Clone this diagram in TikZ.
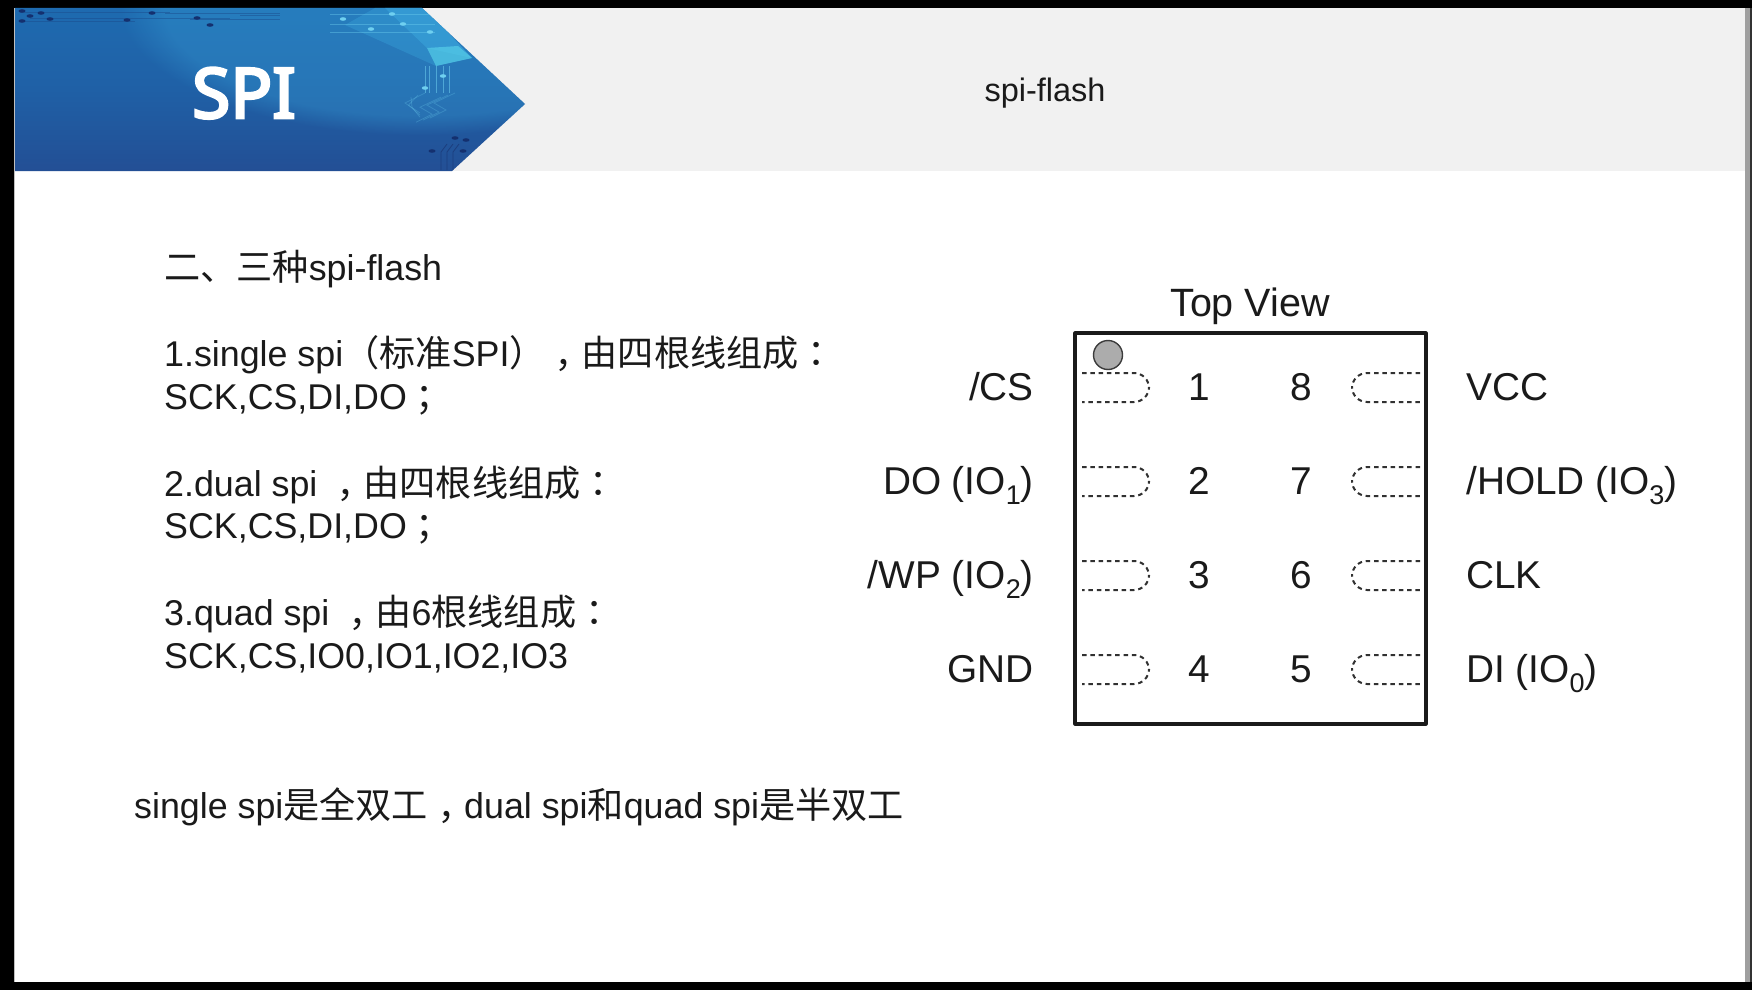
\documentclass[tikz,border=0pt]{standalone}
\usepackage{fontspec}
\setmainfont{Liberation Sans}
\newfontfamily\cjk[Scale=1.01]{Noto Sans CJK SC}
\newfontfamily\pncjk[Scale=1.01]{Noto Sans CJK TC}
\newfontfamily\logofont[FakeBold=4]{Noto Sans}
\usetikzlibrary{fadings}
\definecolor{ink}{HTML}{1A1A1A}
\definecolor{headgray}{HTML}{F1F1F1}
\definecolor{bannerA}{HTML}{2A3A80}
\definecolor{bannerB}{HTML}{25468C}
\definecolor{bannerC}{HTML}{1F60A6}
\definecolor{bannerD}{HTML}{1E6FB4}
\definecolor{bannerE}{HTML}{1F7ABC}
\definecolor{traceDark}{HTML}{1B4D8E}
\definecolor{dotDark}{HTML}{14306F}
\definecolor{traceLow}{HTML}{1C3E7E}
\definecolor{beamA}{HTML}{3BA8DE}
\definecolor{beamB}{HTML}{58D2EA}
\definecolor{lightdot}{HTML}{6FD0F0}
\pgfdeclareverticalshading{bannershade}{100bp}{
 color(0bp)=(bannerA);
 color(12bp)=(bannerB);
 color(50bp)=(bannerC);
 color(85bp)=(bannerD);
 color(100bp)=(bannerE)}
\newcommand{\sbs}[1]{\raisebox{-0.27em}{\fontsize{27}{27}\selectfont #1}}
\newcommand{\pn}[1]{{\pncjk #1}}
\newcommand{\lowcomma}{\smash{\raisebox{-0.34em}{\pncjk ，}}}
\newcommand{\lowcolon}{\smash{\raisebox{-0.04em}{\pncjk ：}}}
\newcommand{\lowsemi}{\smash{\raisebox{-0.06em}{\pncjk ；}}}
\tikzset{
 body/.style={inner sep=0pt,anchor=base west,font=\fontsize{35.8}{36}\selectfont,text=ink},
 pinlabelL/.style={inner sep=0pt,anchor=base east,font=\fontsize{38.8}{38}\selectfont,text=ink},
 pinlabelR/.style={inner sep=0pt,anchor=base west,font=\fontsize{38.8}{38}\selectfont,text=ink},
 pinnum/.style={inner sep=0pt,anchor=base,font=\fontsize{38.8}{38}\selectfont,text=ink},
 pad/.style={draw=ink!90,line width=2pt,dash pattern=on 4.5pt off 3.8pt,rounded corners=15pt},
 trace/.style={line width=.8pt},
}
\begin{document}
\begin{tikzpicture}[x=1pt,y=-1pt]
\useasboundingbox (0,0) rectangle (1752,990);
% frame and slide
\fill[black] (0,0) rectangle (1752,990);
\fill[white] (14,8) rectangle (1745,982);
\fill[headgray] (14,8) rectangle (1745,171);
\fill[gray!75] (1745,8) rectangle (1750,982);
\fill[gray!40!black] (1750,8) rectangle (1752,982);
\fill[gray!50] (14,8) rectangle (15,982);
% banner
\begin{scope}
\clip (15,8) -- (422,8) -- (525,104) -- (452,171) -- (15,171) -- cycle;
\shade[shading=bannershade] (15,8) rectangle (525,171);
\fill[beamA,opacity=.3,path fading=circle with fuzzy edge 15 percent] (420,5) ellipse (300 and 130);
% light beam
\fill[beamA,opacity=.35] (345,25) -- (375,8) -- (425,8) -- (472,58) -- (436,66) -- cycle;
\fill[beamA,opacity=.5] (385,8) -- (425,8) -- (472,58) -- (427,48) -- cycle;
\fill[beamB,opacity=.65] (427,48) -- (458,46) -- (472,58) -- (436,66) -- cycle;
\foreach \yy in {14,24,32}{\draw[lightdot,opacity=.4,trace] (330,\yy) -- (435,\yy);}
\foreach \dx/\dy in {343/19,392/14,403/24,371/29,430/32,425/88,443/76}{\fill[lightdot] (\dx,\dy) ellipse (3.2pt and 1.8pt);}
\foreach \xx in {425,429,436,443,449}{
 \draw[lightdot,opacity=.55,trace] (\xx,66) -- (\xx,93);
}
\foreach \sh in {0,7,14}{
 \draw[lightdot,opacity=.25,trace] (455-\sh,93+\sh*.3) -- (434-\sh,103+\sh*.3) -- (446-\sh,110+\sh*.3) -- (430-\sh,118+\sh*.3);
 \draw[lightdot,opacity=.25,trace] (425-\sh,93+\sh*.3) -- (405+\sh*.5,103+\sh*.3) -- (420,113+\sh*.3);
}
% dark traces
\foreach \yy/\xa/\xb in {12/20/170,13/165/280,18/30/230,21/20/135,19/190/280,15/240/280}{\draw[traceDark,opacity=.5,trace] (\xa,\yy) -- (\xb,\yy);}
\foreach \dx/\dy in {22/11,30/16,41/13,50/19,22/21,127/20,152/13,197/18,210/25,432/151,463/151,455/138,466/140}{\fill[dotDark] (\dx,\dy) ellipse (3.5pt and 1.8pt);}
\foreach \xx in {441,447,453}{\draw[traceLow,trace] (\xx,170) -- (\xx,152) -- ++(6,-8);}
\end{scope}
\node[inner sep=0pt,text=white,anchor=base,font=\logofont\fontsize{69.5}{69}\selectfont] (logo) at (244,118) {SPI};
\node[inner sep=0pt,text=ink,font=\fontsize{32.5}{33}\selectfont] (title) at (1045,93) {spi-flash};
% left text
\node[body] (t0) at (164,280) {{\cjk 二、三种}spi-flash};
\node[body] (t1) at (164,366) {1.single spi\pn{（}{\cjk 标准}SPI\pn{）}\lowcomma{\cjk 由四根线组成}\lowcolon};
\node[body] (t2) at (164,409) {SCK,CS,DI,DO\lowsemi};
\node[body] (t3) at (164,496) {2.dual spi \lowcomma{\cjk 由四根线组成}\lowcolon};
\node[body] (t4) at (164,538) {SCK,CS,DI,DO\lowsemi};
\node[body] (t5) at (164,625) {3.quad spi \lowcomma{\cjk 由}6{\cjk 根线组成}\lowcolon};
\node[body] (t6) at (164,668) {SCK,CS,IO0,IO1,IO2,IO3};
\node[body] (t7) at (134,818) {single spi{\cjk 是全双工}\lowcomma dual spi{\cjk 和}quad spi{\cjk 是半双工}};
% chip
\node[inner sep=0pt,font=\fontsize{39.5}{38}\selectfont,text=ink] (topview) at (1250,306) {Top View};
\draw[line width=3.2pt,draw=ink,line join=round] (1075,333) rectangle (1426,724);
\fill[gray!65] (1108,355) circle (14.5pt);
\draw[ink!85,line width=1.4pt] (1108,355) circle (14.5pt);
\foreach \yy in {373,467,561,655}{
 \draw[pad] (1082,\yy) -- (1149,\yy) -- (1149,\yy+29) -- (1082,\yy+29);
 \draw[pad] (1420,\yy) -- (1352,\yy) -- (1352,\yy+29) -- (1420,\yy+29);
}
\node[pinnum] (n1) at (1199,400) {1};
\node[pinnum] (n2) at (1199,494) {2};
\node[pinnum] (n3) at (1199,588) {3};
\node[pinnum] (n4) at (1199,682) {4};
\node[pinnum] (n8) at (1301,400) {8};
\node[pinnum] (n7) at (1301,494) {7};
\node[pinnum] (n6) at (1301,588) {6};
\node[pinnum] (n5) at (1301,682) {5};
\node[pinlabelL] (l1) at (1034,400) {/CS};
\node[pinlabelL] (l2) at (1034,494) {DO (IO\sbs{1})};
\node[pinlabelL] (l3) at (1034,588) {/WP (IO\sbs{2})};
\node[pinlabelL] (l4) at (1034,682) {GND};
\node[pinlabelR] (r8) at (1466,400) {VCC};
\node[pinlabelR] (r7) at (1466,494) {/HOLD (IO\sbs{3})};
\node[pinlabelR] (r6) at (1466,588) {CLK};
\node[pinlabelR] (r5) at (1466,682) {DI (IO\sbs{0})};
\end{tikzpicture}
\end{document}
